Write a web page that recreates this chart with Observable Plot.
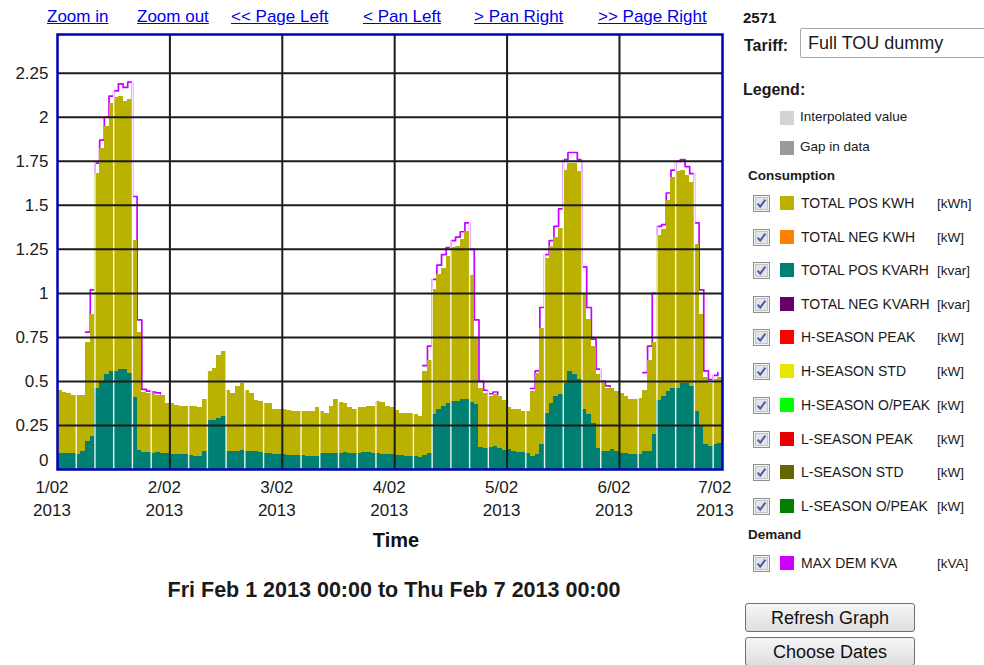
<!DOCTYPE html>
<html>
<head>
<meta charset="utf-8">
<script src="https://cdn.jsdelivr.net/npm/d3@7"></script>
<script src="https://cdn.jsdelivr.net/npm/@observablehq/plot@0.6"></script>
<style>
  html, body { margin: 0; padding: 0; background: #fff; }
  body { width: 984px; height: 665px; position: relative; overflow: hidden;
         font-family: "Liberation Sans", Arial, sans-serif; color: #1a1a1a; }
  .abs { position: absolute; white-space: nowrap; }
  a.nav { position: absolute; top: 6px; font-size: 17px; line-height: 22px; color: #0000ee; text-decoration: underline; }
  .row { position: absolute; left: 753px; height: 18px; display: flex; align-items: center; font-size: 14px; }
  .sw { width: 14px; height: 14px; margin-left: 10px; margin-right: 7px; }
  .unit { position: absolute; left: 184px; font-size: 13.5px; }
  .btn { position: absolute; left: 745px; width: 170px; height: 29px; border: 1px solid #707070; border-radius: 3px;
         background: linear-gradient(#f6f6f6, #dedede); font-size: 18px; text-align: center; line-height: 28px; color: #111; box-sizing: border-box; }
</style>
</head>
<body>
<div id="chart" class="abs" style="left:0;top:0"></div>

<a class="nav" style="left:47px">Zoom in</a>
<a class="nav" style="left:137px">Zoom out</a>
<a class="nav" style="left:231px">&lt;&lt; Page Left</a>
<a class="nav" style="left:363px">&lt; Pan Left</a>
<a class="nav" style="left:474px">&gt; Pan Right</a>
<a class="nav" style="left:598px">&gt;&gt; Page Right</a>

<div class="abs" style="left:743px;top:9px;font-size:15px;font-weight:bold">2571</div>
<div class="abs" style="left:744px;top:37px;font-size:16px;font-weight:bold">Tariff:</div>
<div class="abs" style="left:800px;top:28px;width:200px;height:30px;border:1px solid #a9a9a9;border-radius:2px;box-sizing:border-box;font-size:18px;line-height:28px;padding-left:7px">Full TOU dummy</div>
<div class="abs" style="left:743px;top:81px;font-size:16px;font-weight:bold">Legend:</div>
<div class="abs" style="left:780px;top:111px;width:14px;height:14px;background:#d3d3d3"></div>
<div class="abs" style="left:800px;top:109px;font-size:13.5px">Interpolated value</div>
<div class="abs" style="left:780px;top:141px;width:14px;height:14px;background:#9a9a9a"></div>
<div class="abs" style="left:800px;top:139px;font-size:13.5px">Gap in data</div>
<div class="abs" style="left:748px;top:168px;font-size:13.5px;font-weight:bold">Consumption</div>
<div class="abs" style="left:748px;top:527px;font-size:13.5px;font-weight:bold">Demand</div>
<div id="legend"></div>

<div class="btn" style="top:603px">Refresh Graph</div>
<div class="btn" style="top:637px">Choose Dates</div>

<div class="abs" style="left:0;width:788px;top:578px;text-align:center;font-size:21.5px;font-weight:bold">Fri Feb 1 2013 00:00 to Thu Feb 7 2013 00:00</div>

<script>
// ---------------- data (hourly, from Fri Feb 1 2013 00:00) ----------------
const startUTC = Date.UTC(2013, 1, 1);
const HOUR = 3600e3;

// TOTAL POS KWH
const kwh = [
  // Feb 1
  0.45,0.44,0.43,0.42,0.42,0.42,0.72,0.88,1.68,1.82,1.95,2.08,2.11,2.12,2.09,2.10,1.30,0.78,0.44,0.43,0.43,0.42,0.42,0.375,
  // Feb 2
  0.375,0.365,0.36,0.36,0.36,0.355,0.35,0.40,0.555,0.575,0.65,0.67,0.45,0.43,0.47,0.49,0.45,0.43,0.39,0.385,0.375,0.375,0.34,0.34,
  // Feb 3
  0.343,0.335,0.33,0.33,0.33,0.33,0.33,0.354,0.33,0.32,0.36,0.40,0.38,0.377,0.35,0.34,0.354,0.354,0.358,0.36,0.386,0.38,0.358,0.354,
  // Feb 4
  0.335,0.32,0.316,0.316,0.31,0.30,0.557,0.62,1.02,1.106,1.144,1.21,1.258,1.267,1.305,1.35,1.10,0.75,0.46,0.434,0.415,0.424,0.415,0.39,
  // Feb 5
  0.35,0.343,0.34,0.33,0.33,0.443,0.547,0.80,1.20,1.267,1.32,1.37,1.70,1.74,1.74,1.69,1.00,0.85,0.70,0.54,0.49,0.462,0.46,0.443,
  // Feb 6
  0.434,0.415,0.40,0.40,0.405,0.45,0.62,0.72,1.33,1.36,1.53,1.66,1.69,1.70,1.67,1.63,1.28,0.88,0.52,0.49,0.513,0.52
];

// TOTAL POS KVARH
const kvarh = [
  0.09,0.09,0.09,0.09,0.085,0.10,0.16,0.19,0.46,0.50,0.54,0.555,0.555,0.57,0.565,0.545,0.41,0.11,0.095,0.095,0.09,0.095,0.09,0.09,
  0.087,0.085,0.087,0.085,0.08,0.076,0.076,0.10,0.28,0.28,0.29,0.30,0.10,0.105,0.105,0.11,0.105,0.10,0.10,0.095,0.09,0.09,0.085,0.085,
  0.083,0.08,0.08,0.078,0.078,0.074,0.074,0.074,0.09,0.09,0.09,0.089,0.089,0.095,0.089,0.089,0.089,0.097,0.097,0.089,0.089,0.083,0.083,0.083,
  0.078,0.078,0.074,0.074,0.074,0.07,0.078,0.093,0.31,0.34,0.358,0.373,0.386,0.386,0.396,0.40,0.38,0.37,0.127,0.12,0.125,0.13,0.12,0.11,
  0.112,0.102,0.097,0.097,0.093,0.074,0.083,0.14,0.32,0.377,0.415,0.424,0.49,0.557,0.538,0.51,0.34,0.31,0.263,0.12,0.102,0.102,0.112,0.102,
  0.093,0.093,0.083,0.083,0.083,0.10,0.10,0.20,0.39,0.415,0.443,0.462,0.462,0.49,0.49,0.47,0.33,0.25,0.14,0.13,0.14,0.15
];

// MAX DEM KVA (only where it shows above the bars; null elsewhere)
const demand = [
  null,null,null,null,null,null,0.78,1.02,1.74,1.87,2.0,2.12,2.15,2.19,2.17,2.2,1.55,0.85,0.455,0.445,0.44,0.435,0.43,null,
  null,null,null,null,null,null,null,null,null,null,null,null,null,null,null,null,null,null,null,null,null,null,null,null,
  null,null,null,null,null,null,null,null,null,null,null,null,null,null,null,null,null,null,null,null,null,null,null,null,
  null,null,null,null,null,null,0.59,0.70,1.08,1.16,1.22,1.26,1.30,1.32,1.35,1.40,1.25,0.85,0.50,0.45,0.43,0.44,0.425,null,
  null,null,null,null,null,0.46,0.56,0.92,1.22,1.30,1.38,1.48,1.76,1.80,1.80,1.76,1.15,0.92,0.74,0.57,0.50,0.475,0.47,null,
  null,null,null,null,null,0.55,0.70,1.00,1.38,1.39,1.57,1.70,1.75,1.76,1.72,1.68,1.40,1.02,0.56,0.51,0.535,0.55
];

const yTickValues = [0, 0.25, 0.5, 0.75, 1, 1.25, 1.5, 1.75, 2, 2.25];
const yTickLabels = ["0", "0.25", "0.5", "0.75", "1", "1.25", "1.5", "1.75", "2", "2.25"];
const dayLabels = ["1/02\n2013", "2/02\n2013", "3/02\n2013", "4/02\n2013", "5/02\n2013", "6/02\n2013", "7/02\n2013"];

const legendItems = [
  ["TOTAL POS KWH", "[kWh]", "#bab100"],
  ["TOTAL NEG KWH", "[kW]", "#ff8000"],
  ["TOTAL POS KVARH", "[kvar]", "#008072"],
  ["TOTAL NEG KVARH", "[kvar]", "#660066"],
  ["H-SEASON PEAK", "[kW]", "#ff0000"],
  ["H-SEASON STD", "[kW]", "#e6e600"],
  ["H-SEASON O/PEAK", "[kW]", "#00ff00"],
  ["L-SEASON PEAK", "[kW]", "#e60000"],
  ["L-SEASON STD", "[kW]", "#666600"],
  ["L-SEASON O/PEAK", "[kW]", "#007f00"]
];
const demandItems = [["MAX DEM KVA", "[kVA]", "#cc00ff"]];

// ---------------- build ----------------
const data = kwh.map((v, i) => ({
  t: new Date(startUTC + i * HOUR),
  t2: new Date(startUTC + (i + 1) * HOUR),
  kwh: v, kvarh: kvarh[i], dem: demand[i]
}));
const days = dayLabels.map((label, i) => ({ t: new Date(startUTC + i * 24 * HOUR), label }));
const fourHours = d3.range(0, kwh.length + 1, 4).filter(h => h % 24 !== 0).map(h => new Date(startUTC + h * HOUR));
const yTicks = yTickValues.map((v, i) => ({ v, label: yTickLabels[i] }));

const grid = "#1c1c1c";
const chart = Plot.plot({
  width: 740,
  height: 560,
  marginLeft: 57,
  marginRight: 18,
  marginTop: 34,
  marginBottom: 91,
  style: { fontFamily: '"Liberation Sans", Arial, sans-serif', background: "transparent", overflow: "visible" },
  x: { type: "utc", domain: [new Date(startUTC), new Date(startUTC + kwh.length * HOUR)], axis: null },
  y: { domain: [0, 2.47], axis: null },
  marks: [
    Plot.lineY(data, { x: "t", y: "dem", curve: "step-after", stroke: "#c800ff", strokeWidth: 1.7 }),
    Plot.rectY(data, { x1: "t", x2: "t2", y: "kwh", fill: "#bab100", shapeRendering: "crispEdges" }),
    Plot.rectY(data, { x1: "t", x2: "t2", y: "kvarh", fill: "#008072", shapeRendering: "crispEdges" }),
    Plot.ruleX(fourHours, { stroke: "#ffffff", strokeWidth: 1.4, strokeOpacity: 0.9 }),
    Plot.ruleY(yTicks.filter(d => d.v > 0), { y: "v", stroke: grid, strokeWidth: 2 }),
    Plot.ruleX(days.slice(1, 6), { x: "t", stroke: grid, strokeWidth: 2 }),
    Plot.frame({ stroke: "#0000b4", strokeWidth: 2.5 }),
    // y tick labels
    Plot.text(yTicks.filter(d => d.v > 0), { y: "v", text: "label", frameAnchor: "left", textAnchor: "end", dx: -9, fontSize: 17, fill: "#1a1a1a" }),
    Plot.text(yTicks.filter(d => d.v === 0), { y: "v", text: "label", frameAnchor: "left", textAnchor: "end", dx: -9, dy: -9, fontSize: 17, fill: "#1a1a1a" }),
    // x tick labels
    Plot.text(days.slice(0, 6), { x: "t", text: "label", frameAnchor: "bottom", lineAnchor: "top", dy: 7, dx: -5.5, lineHeight: 1.35, fontSize: 17, fill: "#1a1a1a" }),
    Plot.text(days.slice(6), { x: "t", text: "label", frameAnchor: "bottom", lineAnchor: "top", dy: 7, dx: -17, lineHeight: 1.35, fontSize: 17, fill: "#1a1a1a" }),
    // axis title
    Plot.text(["Time"], { frameAnchor: "bottom", dy: 77, dx: 6, fontSize: 20, fontWeight: "bold", fill: "#111" })
  ]
});
document.getElementById("chart").appendChild(chart);

// ---------------- legend panel ----------------
const checkSvg = '<svg width="17" height="17" style="flex:none"><rect x="0.5" y="0.5" width="16" height="16" fill="#f2f2f2" stroke="#8e8f8f"/>' +
  '<rect x="2.5" y="2.5" width="12" height="12" fill="#e4e4e6" stroke="#c4c4c4"/>' +
  '<path d="M4.6 8.6 L7.2 11.6 L12.4 4.6" fill="none" stroke="#4b5da6" stroke-width="2"/></svg>';
const legend = document.getElementById("legend");
const rowCenters = [203, 237, 270, 304, 337, 371, 405, 439, 472, 506];
function addRow([name, unit, color], cy) {
  const r = document.createElement("div");
  r.className = "row";
  r.style.top = (cy - 9) + "px";
  r.innerHTML = checkSvg + '<div class="sw" style="background:' + color + '"></div><span>' + name + '</span><span class="unit">' + unit + '</span>';
  legend.appendChild(r);
}
legendItems.forEach((it, i) => addRow(it, rowCenters[i]));
demandItems.forEach(it => addRow(it, 563));
</script>
</body>
</html>
